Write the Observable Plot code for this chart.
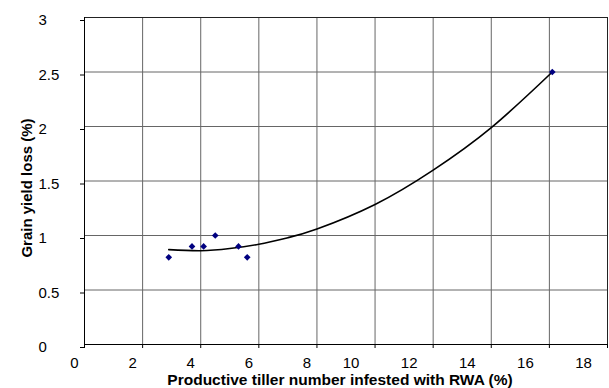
<!DOCTYPE html>
<html>
<head>
<meta charset="utf-8">
<script src="https://cdn.jsdelivr.net/npm/d3@7"></script>
<script src="https://cdn.jsdelivr.net/npm/@observablehq/plot@0.6"></script>
<style>
  html, body { margin: 0; padding: 0; background: #fff; }
  #chart svg { display: block; }
</style>
</head>
<body>
<div id="chart"></div>
<script>
// Observed points
const tillerInfested = [2.9, 3.7, 4.1, 4.5, 5.3, 5.6, 16.1];
const yieldLoss      = [0.8, 0.9, 0.9, 1.0, 0.9, 0.8, 2.5];

// Trend line
const trendX = [2.9, 4, 5, 6, 7, 8, 10, 12, 14, 16.1];
const trendY = [0.87, 0.86, 0.88, 0.92, 0.98, 1.06, 1.285, 1.60, 1.99, 2.5];

// Axis ticks
const xTicks = [0, 2, 4, 6, 8, 10, 12, 14, 16, 18];
const yTicks = [0, 0.5, 1, 1.5, 2, 2.5, 3];

const xTitle = "Productive tiller number infested with RWA (%)";
const yTitle = "Grain yield loss (%)";

const points = tillerInfested.map((x, i) => ({x, y: yieldLoss[i]}));
const trend = trendX.map((x, i) => ({x, y: trendY[i]}));

const chart = Plot.plot({
  width: 609,
  height: 388,
  marginLeft: 84,
  marginRight: 2,
  marginTop: 17,
  marginBottom: 44,
  style: {fontFamily: "'Liberation Sans', Arial, sans-serif", fontSize: "15px", background: "#fff", color: "#000"},
  x: {domain: [0, 18]},
  y: {domain: [0, 3]},
  marks: [
    Plot.gridX(xTicks, {stroke: "#666", strokeOpacity: 1}),
    Plot.gridY(yTicks, {stroke: "#666", strokeOpacity: 1}),
    Plot.frame({stroke: "#222"}),
    Plot.ruleX([0], {stroke: "#000"}),
    Plot.ruleY([0], {stroke: "#000"}),
    // tick marks
    Plot.axisX(xTicks, {tickSize: 4, text: null, label: null}),
    // tick labels (drawn slightly left of their ticks, as in the reference)
    Plot.axisX(xTicks.slice(0, 5), {tickSize: 0, tickPadding: 13, dx: -10, label: null, fontSize: 15}),
    Plot.axisX(xTicks.slice(5), {tickSize: 0, tickPadding: 13, dx: -24, label: null, fontSize: 15}),
    Plot.axisY(yTicks, {tickSize: 4, tickPadding: 42, textAnchor: "start", dy: 3, label: null, fontSize: 15, tickFormat: d => String(d)}),
    Plot.line(trend, {x: "x", y: "y", curve: "natural", stroke: "#000", strokeWidth: 1.6}),
    Plot.dot(points, {x: "x", y: "y", symbol: "diamond2", r: 3, fill: "#000080", stroke: "none"}),
    Plot.text([xTitle], {frameAnchor: "bottom", text: d => d, textAnchor: "middle", lineAnchor: "middle", dy: 36, dx: -6, fontWeight: "bold", fontSize: 15.5}),
    Plot.text([yTitle], {frameAnchor: "left", text: d => d, textAnchor: "middle", lineAnchor: "middle", rotate: -90, dx: -57, dy: 7, fontWeight: "bold", fontSize: 15})
  ]
});
document.getElementById("chart").appendChild(chart);
</script>
</body>
</html>
